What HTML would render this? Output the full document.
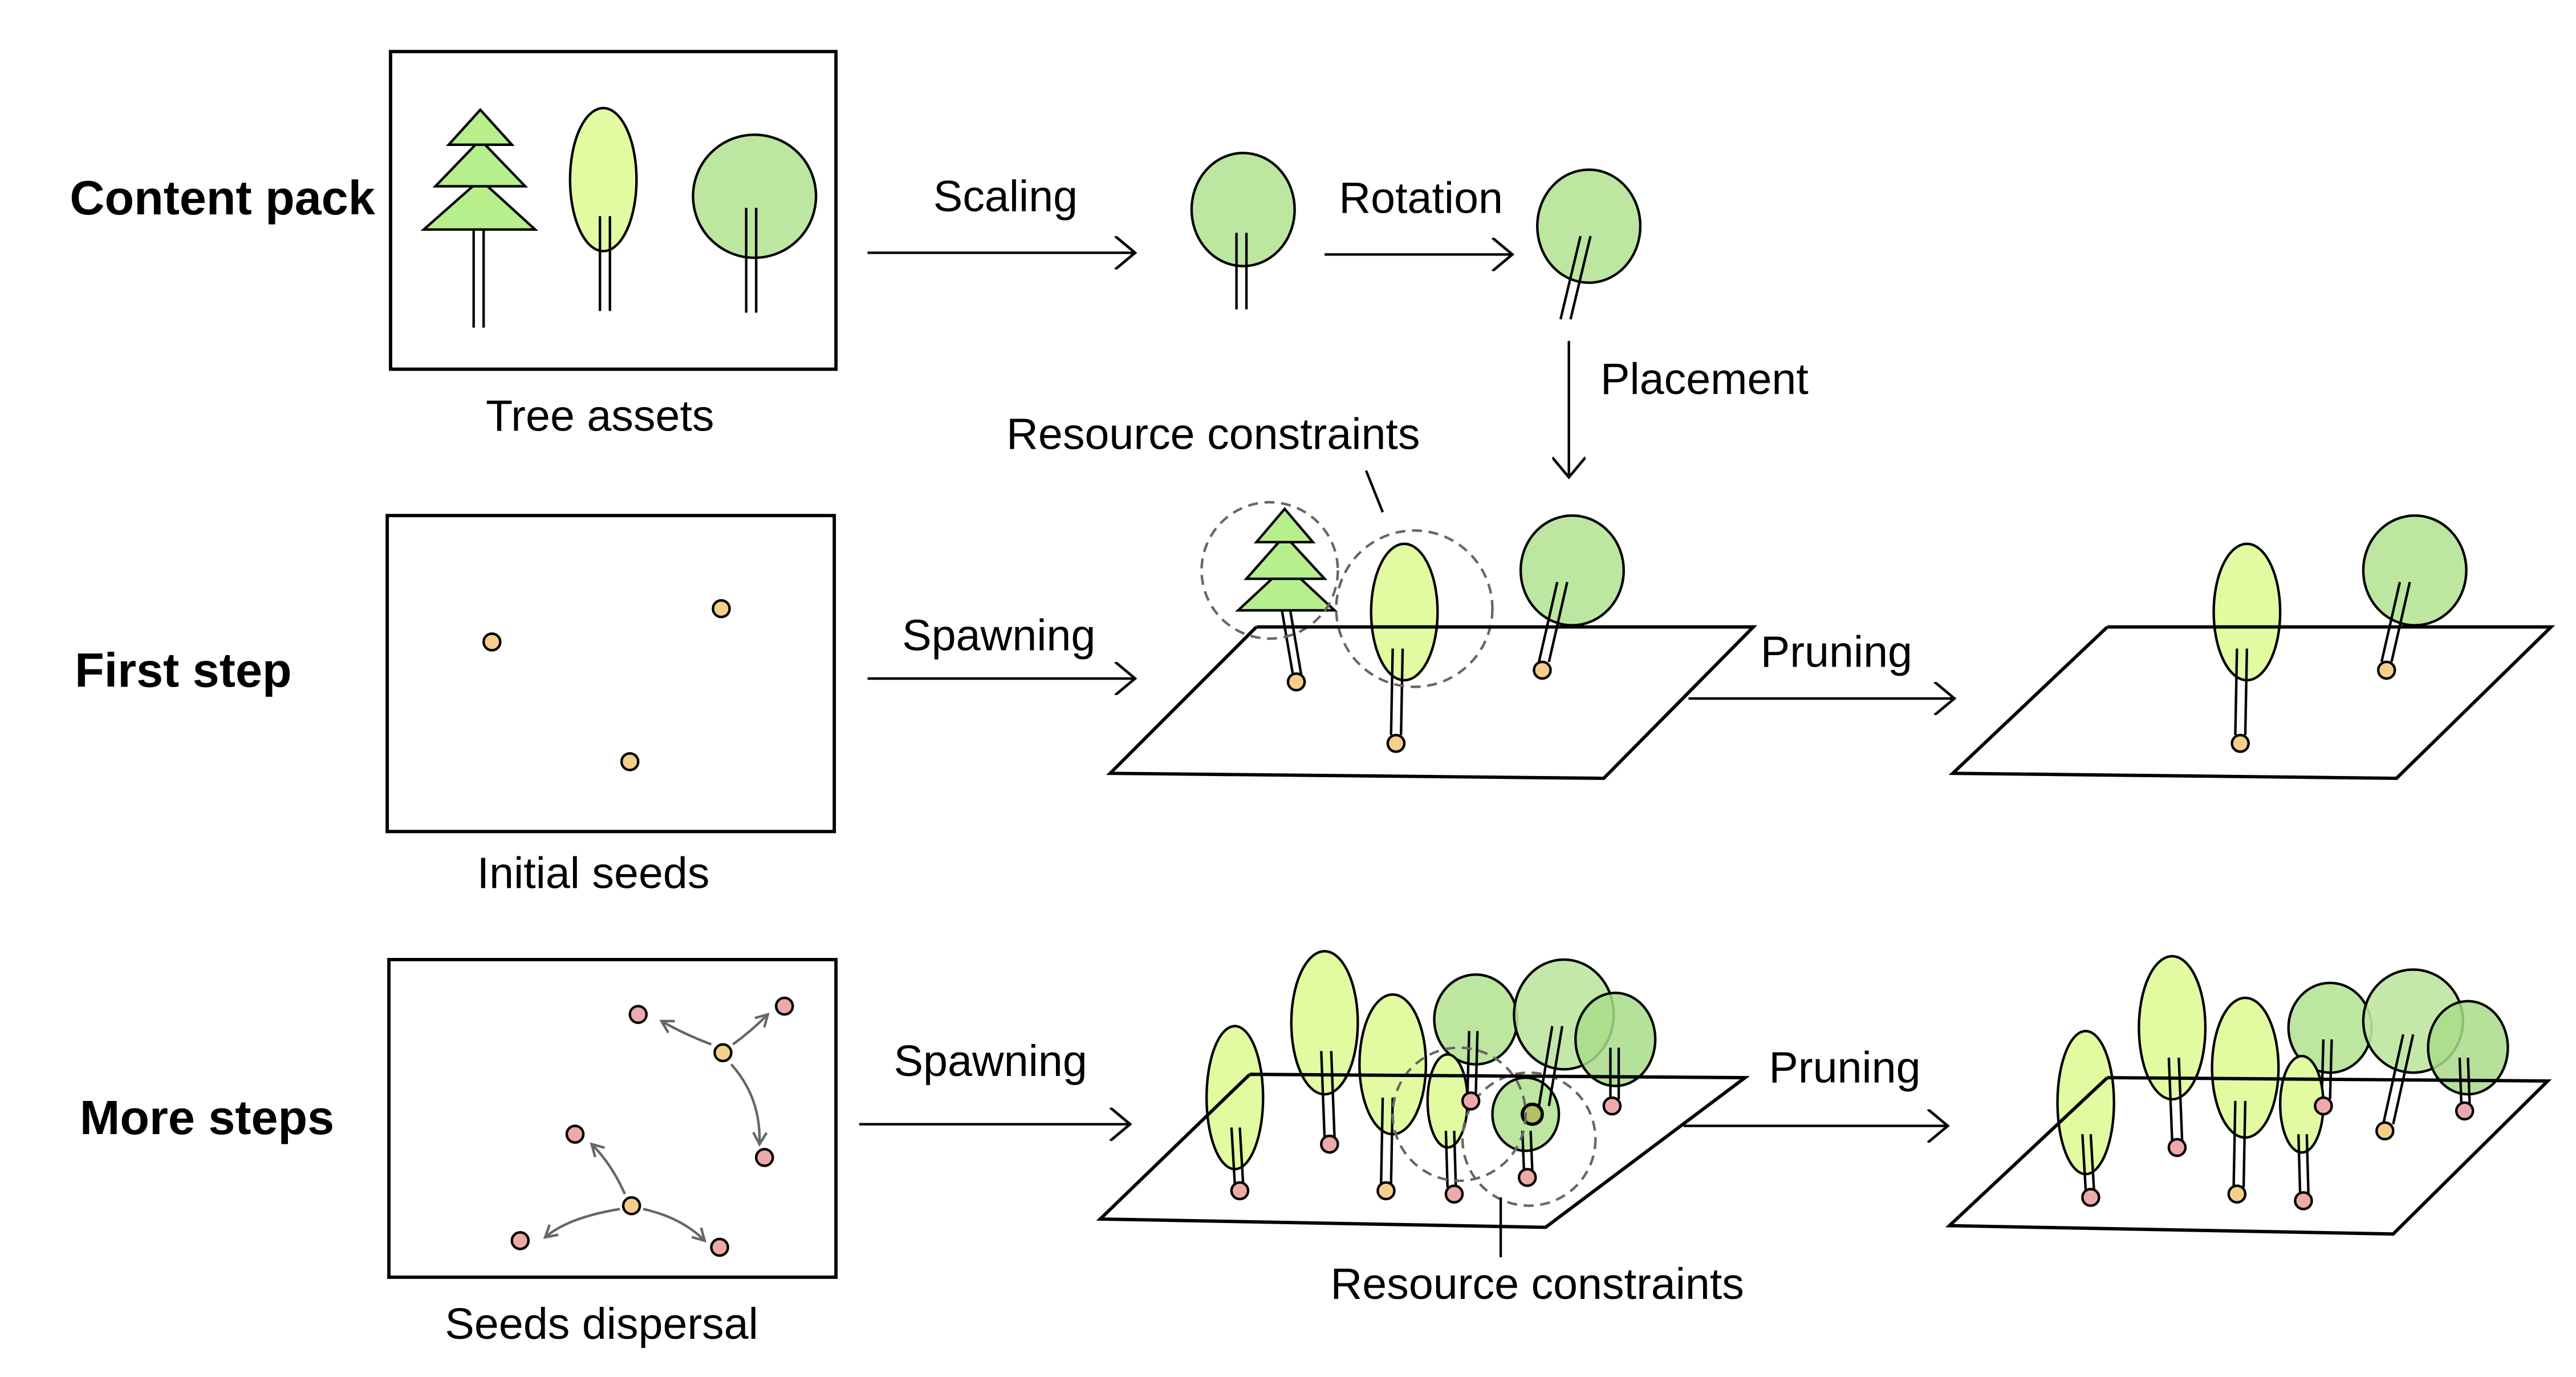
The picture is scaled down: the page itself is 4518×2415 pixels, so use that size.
<!DOCTYPE html>
<html><head><meta charset="utf-8"><style>
html,body{margin:0;padding:0;background:#fff;}
svg{display:block;}
text{font-family:"Liberation Sans",sans-serif;fill:#000;}
</style></head><body>
<svg width="4518" height="2415" viewBox="0 0 1550 828" preserveAspectRatio="none" xmlns="http://www.w3.org/2000/svg">
<defs>
<marker id="ah" markerWidth="20" markerHeight="20" refX="14" refY="10" orient="auto" markerUnits="userSpaceOnUse">
<path d="M2,0 L14,10 L2,20" fill="none" stroke="#000" stroke-width="1.6"/></marker>
<marker id="gh" markerWidth="10" markerHeight="10" refX="8" refY="5" orient="auto" markerUnits="userSpaceOnUse">
<path d="M1,1 L8,5 L1,9" fill="none" stroke="#666" stroke-width="1.5"/></marker>
</defs>
<g stroke="#000" stroke-width="1.5" fill="none">
<rect x="235" y="31" width="268" height="191" stroke-width="2"/>
<line x1="285" y1="138" x2="285" y2="197"/><line x1="291" y1="138" x2="291" y2="197"/>
<polygon points="255,138 322,138 289,108" fill="#b6ef8c"/>
<polygon points="262,112 316,112 289,84" fill="#b6ef8c"/>
<polygon points="270,87 308,87 289,66" fill="#b6ef8c"/>
<ellipse cx="363" cy="108" rx="20" ry="43" fill="#e2fba0"/>
<line x1="361" y1="130" x2="361" y2="187"/><line x1="367" y1="130" x2="367" y2="187"/>
<circle cx="454" cy="118" r="37" fill="#bde6a0"/>
<line x1="449" y1="125" x2="449" y2="188"/><line x1="455" y1="125" x2="455" y2="188"/>
<line x1="522" y1="152" x2="683" y2="152" marker-end="url(#ah)"/>
<ellipse cx="748" cy="126" rx="31" ry="34" fill="#bde6a0"/>
<line x1="744" y1="140" x2="744" y2="186"/><line x1="750" y1="140" x2="750" y2="186"/>
<line x1="797" y1="153" x2="910" y2="153" marker-end="url(#ah)"/>
<ellipse cx="956" cy="136" rx="31" ry="34" fill="#bde6a0"/>
<line x1="951" y1="142" x2="939" y2="192"/><line x1="957" y1="142" x2="945" y2="192"/>
<line x1="944" y1="205" x2="944" y2="287" marker-end="url(#ah)"/>
<line x1="822" y1="283" x2="832" y2="308"/>
<rect x="233" y="310" width="269" height="190" stroke-width="2"/>
<circle cx="296" cy="386" r="5" fill="#f5cf8a"/><circle cx="434" cy="366" r="5" fill="#f5cf8a"/><circle cx="379" cy="458" r="5" fill="#f5cf8a"/>
<line x1="522" y1="408" x2="683" y2="408" marker-end="url(#ah)"/>
<line x1="771" y1="365" x2="778" y2="406"/><line x1="776" y1="365" x2="783" y2="406"/>
<polygon points="745,367 803,367 774,340" fill="#b6ef8c"/>
<polygon points="750,348 797,348 773,322" fill="#b6ef8c"/>
<polygon points="756,326 790,326 773,306" fill="#b6ef8c"/>
<circle cx="780" cy="410" r="5" fill="#f5cf8a"/>
<ellipse cx="845" cy="368" rx="20" ry="41" fill="#e2fba0"/>
<line x1="838" y1="390" x2="837" y2="442"/><line x1="844" y1="390" x2="843" y2="442"/>
<circle cx="840" cy="447" r="5" fill="#f5cf8a"/>
<circle cx="764" cy="343" r="41" stroke="#666" stroke-dasharray="6,4"/>
<circle cx="851" cy="366" r="47" stroke="#666" stroke-dasharray="6,4"/>
<ellipse cx="946" cy="343" rx="31" ry="33" fill="#bde6a0"/>
<line x1="937" y1="350" x2="926" y2="398"/><line x1="943" y1="350" x2="932" y2="398"/>
<circle cx="928" cy="403" r="5" fill="#f5cf8a"/>
<polyline points="756,377 1055,377 965,468 668,465 756,377" stroke-width="2"/>
<line x1="1016" y1="420" x2="1176" y2="420" marker-end="url(#ah)"/>
<ellipse cx="1352" cy="368" rx="20" ry="41" fill="#e2fba0"/>
<line x1="1346" y1="390" x2="1345" y2="442"/><line x1="1352" y1="390" x2="1351" y2="442"/>
<circle cx="1348" cy="447" r="5" fill="#f5cf8a"/>
<ellipse cx="1453" cy="343" rx="31" ry="33" fill="#bde6a0"/>
<line x1="1444" y1="350" x2="1433" y2="398"/><line x1="1450" y1="350" x2="1439" y2="398"/>
<circle cx="1436" cy="403" r="5" fill="#f5cf8a"/>
<polyline points="1268,377 1535,377 1442,468 1175,465 1268,377" stroke-width="2"/>
<rect x="234" y="577" width="269" height="191" stroke-width="2"/>
<g stroke="#666" fill="none">
<path d="M428,628 Q412,622 398,614" marker-end="url(#gh)"/>
<path d="M441,628 Q452,620 462,610" marker-end="url(#gh)"/>
<path d="M440,640 Q458,660 457,688" marker-end="url(#gh)"/>
<path d="M376,718 Q368,700 356,688" marker-end="url(#gh)"/>
<path d="M373,727 Q342,732 328,744" marker-end="url(#gh)"/>
<path d="M387,727 Q410,732 424,746" marker-end="url(#gh)"/>
</g>
<g fill="#eeaaaa"><circle cx="384" cy="610" r="5"/><circle cx="472" cy="605" r="5"/><circle cx="460" cy="696" r="5"/><circle cx="346" cy="682" r="5"/><circle cx="313" cy="746" r="5"/><circle cx="433" cy="750" r="5"/></g>
<g fill="#f5cf8a"><circle cx="435" cy="633" r="5"/><circle cx="380" cy="725" r="5"/></g>
<line x1="517" y1="676" x2="680" y2="676" marker-end="url(#ah)"/>
<g>
<ellipse cx="743" cy="660" rx="17" ry="43" fill="#e2fba0"/>
<line x1="741" y1="678" x2="743" y2="712"/><line x1="746" y1="678" x2="748" y2="712"/>
<ellipse cx="797" cy="615" rx="20" ry="43" fill="#e2fba0"/>
<line x1="795" y1="632" x2="797" y2="684"/><line x1="801" y1="632" x2="803" y2="684"/>
<ellipse cx="838" cy="640" rx="20" ry="42" fill="#e2fba0"/>
<line x1="832" y1="660" x2="831" y2="712"/><line x1="838" y1="660" x2="837" y2="712"/>
<ellipse cx="888" cy="613" rx="25" ry="27" fill="#bde6a0"/>
<line x1="884" y1="620" x2="883" y2="658"/><line x1="889" y1="620" x2="888" y2="658"/>
<ellipse cx="941" cy="610" rx="30" ry="33" fill="#bde6a0" fill-opacity="0.9"/>
<ellipse cx="972" cy="625" rx="24" ry="28" fill="#a8dc88" fill-opacity="0.85"/>
<line x1="969" y1="630" x2="969" y2="661"/><line x1="974" y1="630" x2="974" y2="661"/>
<ellipse cx="871" cy="662" rx="12" ry="28" fill="#e2fba0"/>
<line x1="870" y1="680" x2="871" y2="714"/><line x1="875" y1="680" x2="876" y2="714"/>
<ellipse cx="918" cy="670" rx="20" ry="22" fill="#bde6a0"/>
<line x1="916" y1="680" x2="917" y2="704"/><line x1="921" y1="680" x2="922" y2="704"/>
<line x1="934" y1="617" x2="926" y2="665"/><line x1="940" y1="617" x2="932" y2="665"/>
<circle cx="922" cy="670" r="6" fill="#b7c060" stroke-width="2"/>
</g>
<circle cx="878" cy="670" r="40" stroke="#666" stroke-dasharray="6,4"/>
<circle cx="920" cy="685" r="40" stroke="#666" stroke-dasharray="6,4"/>
<g fill="#eeaaaa"><circle cx="746" cy="716" r="5"/><circle cx="800" cy="688" r="5"/><circle cx="875" cy="718" r="5"/><circle cx="885" cy="662" r="5"/><circle cx="970" cy="665" r="5"/><circle cx="919" cy="708" r="5"/></g>
<circle cx="834" cy="716" r="5" fill="#f5cf8a"/>
<polyline points="752,646 1050,648 930,738 662,733 752,646" stroke-width="2"/>
<line x1="903" y1="720" x2="903" y2="756"/>
<line x1="1013" y1="677" x2="1172" y2="677" marker-end="url(#ah)"/>
<ellipse cx="1255" cy="663" rx="17" ry="43" fill="#e2fba0"/>
<line x1="1253" y1="682" x2="1255" y2="716"/><line x1="1258" y1="682" x2="1260" y2="716"/>
<ellipse cx="1307" cy="618" rx="20" ry="43" fill="#e2fba0"/>
<line x1="1305" y1="636" x2="1307" y2="686"/><line x1="1311" y1="636" x2="1313" y2="686"/>
<ellipse cx="1351" cy="642" rx="20" ry="42" fill="#e2fba0"/>
<line x1="1345" y1="662" x2="1344" y2="714"/><line x1="1351" y1="662" x2="1350" y2="714"/>
<ellipse cx="1402" cy="618" rx="25" ry="27" fill="#bde6a0"/>
<line x1="1398" y1="625" x2="1397" y2="661"/><line x1="1403" y1="625" x2="1402" y2="661"/>
<ellipse cx="1452" cy="614" rx="30" ry="31" fill="#bde6a0" fill-opacity="0.9"/>
<ellipse cx="1485" cy="630" rx="24" ry="28" fill="#a8dc88" fill-opacity="0.85"/>
<line x1="1480" y1="636" x2="1481" y2="664"/><line x1="1485" y1="636" x2="1486" y2="664"/>
<line x1="1446" y1="622" x2="1434" y2="676"/><line x1="1452" y1="622" x2="1440" y2="676"/>
<ellipse cx="1385" cy="664" rx="13" ry="29" fill="#e2fba0"/>
<line x1="1383" y1="682" x2="1384" y2="718"/><line x1="1388" y1="682" x2="1389" y2="718"/>
<g fill="#eeaaaa"><circle cx="1258" cy="720" r="5"/><circle cx="1310" cy="690" r="5"/><circle cx="1386" cy="722" r="5"/><circle cx="1398" cy="665" r="5"/><circle cx="1483" cy="668" r="5"/></g>
<circle cx="1346" cy="718" r="5" fill="#f5cf8a"/><circle cx="1435" cy="680" r="5" fill="#f5cf8a"/>
<polyline points="1268,648 1533,650 1440,742 1173,737 1268,648" stroke-width="2"/>
</g>
<g font-size="26.5" stroke="none">
<text x="42" y="129" font-weight="bold" font-size="29">Content pack</text>
<text x="45" y="413" font-weight="bold" font-size="29">First step</text>
<text x="48" y="682" font-weight="bold" font-size="29">More steps</text>
<text x="361" y="259" text-anchor="middle">Tree assets</text>
<text x="357" y="534" text-anchor="middle">Initial seeds</text>
<text x="362" y="805" text-anchor="middle">Seeds dispersal</text>
<text x="605" y="127" text-anchor="middle">Scaling</text>
<text x="855" y="128" text-anchor="middle">Rotation</text>
<text x="963" y="237">Placement</text>
<text x="730" y="270" text-anchor="middle">Resource constraints</text>
<text x="601" y="391" text-anchor="middle">Spawning</text>
<text x="1105" y="401" text-anchor="middle">Pruning</text>
<text x="596" y="647" text-anchor="middle">Spawning</text>
<text x="1110" y="651" text-anchor="middle">Pruning</text>
<text x="925" y="781" text-anchor="middle">Resource constraints</text>
</g>
</svg>
</body></html>
